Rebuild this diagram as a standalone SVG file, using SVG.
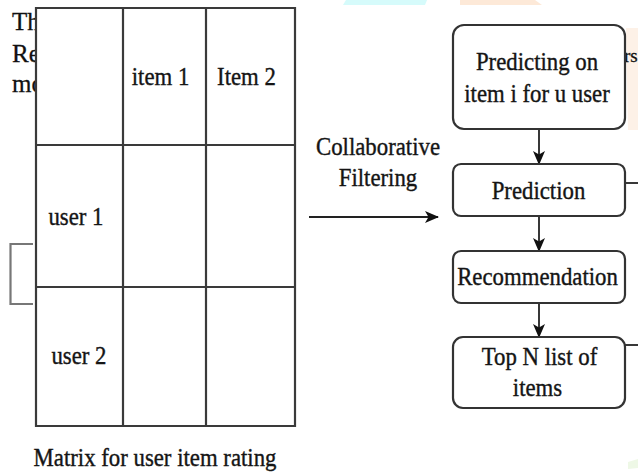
<svg xmlns="http://www.w3.org/2000/svg" width="638" height="473" viewBox="0 0 638 473">
  <style>
    text { font-family: 'Liberation Serif', 'DejaVu Serif', serif; }
    .t { font-size: 22.8px; fill: #151515; stroke: #151515; stroke-width: 0.35px; }
    .bg { font-size: 25px; fill: #111; stroke: #111; stroke-width: 0.3px; }
    .grid { stroke: #3a3a3a; stroke-width: 2.2; fill: none; }
    .box { fill: #fff; stroke: #333; stroke-width: 2.2; }
    .wire { stroke: #222; stroke-width: 1.8; fill: none; }
  </style>
  <defs>
    <marker id="arrow" viewBox="0 0 14 12" refX="13" refY="6" markerWidth="14" markerHeight="12" markerUnits="userSpaceOnUse" orient="auto">
      <path d="M0,0 L14,6 L0,12 L3.5,6 Z" fill="#111"/>
    </marker>
  </defs>

  <rect width="638" height="473" fill="#fff"/>

  <!-- faint page background behind the figure -->
  <g id="page-background">
    <path d="M346,0 H427 L425,5 H343 Z" fill="#d6fbfb"/>
    <path d="M460,0 H535 L542,5 H460 Z" fill="#fde9d8"/>
    <path d="M626,28 H638 V130 H628 Z" fill="#fdf1e7"/>
    <path d="M628,462 L638,459 V468 L628,469 Z" fill="#eef8e6"/>
    <text class="bg" x="12" y="30">The</text>
    <text class="bg" x="12" y="62">Rec</text>
    <text class="bg" x="12" y="92">mo</text>
    <text class="bg" x="624" y="62" style="font-size:19px">rs</text>
    <path class="wire" d="M625,183 H638"/>
    <path class="wire" d="M625,345 H638"/>
    <path d="M33,244 H10.5 V304 H33" fill="none" stroke="#777" stroke-width="2.2"/>
  </g>

  <!-- user / item rating matrix -->
  <g id="rating-matrix">
    <rect x="36" y="8" width="259" height="418" fill="#fff"/>
    <path class="grid" d="M36,8 H295 V426 H36 Z M123,8 V426 M206,8 V426 M36,145 H295 M36,287 H295"/>
    <text class="t" text-anchor="middle" transform="translate(160.5,84.5) scale(1,1.15)">item 1</text>
    <text class="t" text-anchor="middle" transform="translate(246.5,84.5) scale(1,1.15)">Item 2</text>
    <text class="t" text-anchor="middle" transform="translate(76,225) scale(1,1.15)">user 1</text>
    <text class="t" text-anchor="middle" transform="translate(79,364) scale(1,1.15)">user 2</text>
  </g>
  <g id="matrix-caption">
    <text class="t" text-anchor="middle" transform="translate(155,466) scale(1,1.15)">Matrix for user item rating</text>
  </g>

  <!-- connectors -->
  <g id="connectors">
    <path class="wire" d="M309,217 H438" marker-end="url(#arrow)"/>
    <path class="wire" d="M539,129 V164" marker-end="url(#arrow)"/>
    <path class="wire" d="M539,216 V251" marker-end="url(#arrow)"/>
    <path class="wire" d="M539,303 V337" marker-end="url(#arrow)"/>
  </g>
  <g id="cf-label">
    <text class="t" text-anchor="middle" transform="translate(378,155) scale(1,1.15)">Collaborative</text>
    <text class="t" text-anchor="middle" transform="translate(378,186) scale(1,1.15)">Filtering</text>
  </g>

  <!-- pipeline steps -->
  <g id="predicting">
    <rect class="box" x="453" y="25" width="172" height="104" rx="11"/>
    <text class="t" text-anchor="middle" transform="translate(537,70) scale(1,1.15)">Predicting on</text>
    <text class="t" text-anchor="middle" transform="translate(537,101.5) scale(1,1.15)">item i for u user</text>
  </g>
  <g id="prediction">
    <rect class="box" x="453" y="164" width="172" height="52" rx="8"/>
    <text class="t" text-anchor="middle" transform="translate(538.5,199) scale(1,1.15)">Prediction</text>
  </g>
  <g id="recommendation">
    <rect class="box" x="453" y="251" width="172" height="52" rx="8"/>
    <text class="t" text-anchor="middle" transform="translate(537.5,285) scale(1,1.15)">Recommendation</text>
  </g>
  <g id="top-n">
    <rect class="box" x="453" y="337" width="172" height="71" rx="10"/>
    <text class="t" text-anchor="middle" transform="translate(539.5,365) scale(1,1.15)">Top N list of</text>
    <text class="t" text-anchor="middle" transform="translate(537.5,396) scale(1,1.15)">items</text>
  </g>
</svg>
